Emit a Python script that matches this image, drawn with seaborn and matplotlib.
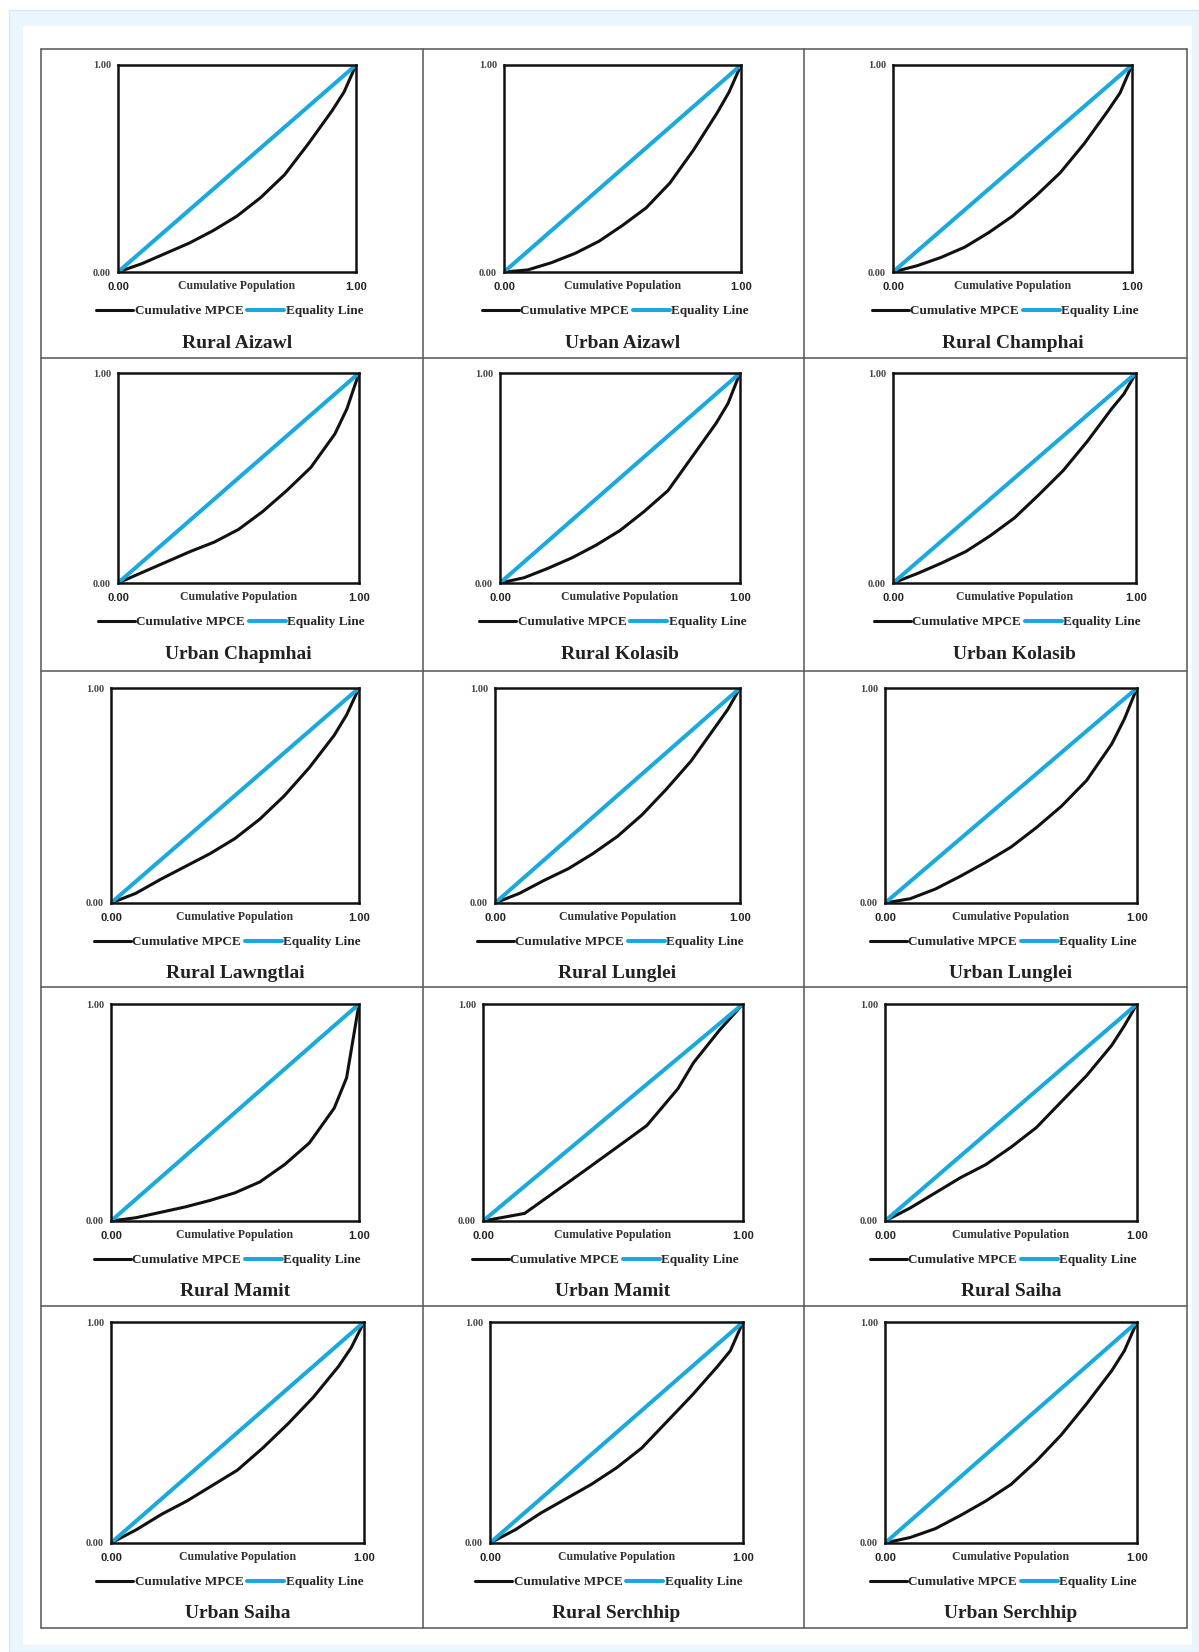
import matplotlib.pyplot as plt
import seaborn as sns
from matplotlib.patches import Rectangle

sns.set_theme(style="white")
plt.rcParams['font.family'] = ['Liberation Serif', 'DejaVu Serif']

# cumulative share of population (deciles + 0.95)
pop = [0.0, 0.1, 0.2, 0.3, 0.4, 0.5, 0.6, 0.7, 0.8, 0.9, 0.95, 1.0]

# cumulative share of MPCE
rural_aizawl = [0, 0.04, 0.09, 0.14, 0.20, 0.27, 0.36, 0.47, 0.62, 0.78, 0.87, 1.0]
urban_aizawl = [0, 0.01, 0.045, 0.09, 0.148, 0.225, 0.31, 0.43, 0.59, 0.77, 0.87, 1.0]
rural_champhai = [0, 0.03, 0.07, 0.12, 0.19, 0.27, 0.37, 0.48, 0.62, 0.78, 0.865, 1.0]
urban_chapmhai = [0, 0.05, 0.10, 0.15, 0.195, 0.255, 0.34, 0.44, 0.55, 0.71, 0.83, 1.0]
rural_kolasib = [0, 0.025, 0.07, 0.12, 0.18, 0.25, 0.34, 0.44, 0.60, 0.76, 0.855, 1.0]
urban_kolasib = [0, 0.045, 0.095, 0.15, 0.225, 0.31, 0.42, 0.535, 0.675, 0.83, 0.90, 1.0]
rural_lawngtlai = [0, 0.045, 0.11, 0.17, 0.23, 0.30, 0.39, 0.50, 0.63, 0.78, 0.875, 1.0]
rural_lunglei = [0, 0.045, 0.105, 0.16, 0.23, 0.31, 0.41, 0.53, 0.66, 0.82, 0.90, 1.0]
urban_lunglei = [0, 0.02, 0.065, 0.125, 0.19, 0.26, 0.35, 0.45, 0.57, 0.74, 0.856, 1.0]
rural_mamit = [0, 0.015, 0.04, 0.065, 0.095, 0.13, 0.18, 0.26, 0.36, 0.52, 0.66, 1.0]
rural_saiha = [0, 0.06, 0.13, 0.20, 0.26, 0.34, 0.43, 0.55, 0.67, 0.81, 0.90, 1.0]
urban_saiha = [0, 0.06, 0.13, 0.19, 0.26, 0.33, 0.43, 0.54, 0.66, 0.80, 0.885, 1.0]
rural_serchhip = [0, 0.06, 0.135, 0.20, 0.265, 0.34, 0.43, 0.55, 0.67, 0.80, 0.87, 1.0]
urban_serchhip = [0, 0.025, 0.065, 0.125, 0.19, 0.265, 0.37, 0.49, 0.63, 0.78, 0.87, 1.0]

# urban mamit is drawn as a plain polyline with its own points
urban_mamit_pop = [0, 0.16, 0.33, 0.40, 0.55, 0.63, 0.75, 0.81, 0.91, 1.0]
urban_mamit = [0, 0.035, 0.18, 0.24, 0.37, 0.44, 0.61, 0.73, 0.88, 1.0]

equality = [0.0, 1.0]

titles = ['Rural Aizawl', 'Urban Aizawl', 'Rural Champhai',
          'Urban Chapmhai', 'Rural Kolasib', 'Urban Kolasib',
          'Rural Lawngtlai', 'Rural Lunglei', 'Urban Lunglei',
          'Rural Mamit', 'Urban Mamit', 'Rural Saiha',
          'Urban Saiha', 'Rural Serchhip', 'Urban Serchhip']
curves_x = [pop, pop, pop, pop, pop, pop, pop, pop, pop,
            pop, urban_mamit_pop, pop, pop, pop, pop]
curves_y = [rural_aizawl, urban_aizawl, rural_champhai,
            urban_chapmhai, rural_kolasib, urban_kolasib,
            rural_lawngtlai, rural_lunglei, urban_lunglei,
            rural_mamit, urban_mamit, rural_saiha,
            urban_saiha, rural_serchhip, urban_serchhip]

W, H = 1199, 1652
fig = plt.figure(figsize=(W / 100, H / 100), dpi=100)
fig.patch.set_facecolor('white')

# background in pixel coordinates: light blue frame + table grid
bg = fig.add_axes([0, 0, 1, 1])
bg.set_xlim(0, W)
bg.set_ylim(H, 0)
bg.axis('off')
bg.add_patch(Rectangle((9, 10), W - 9, H - 10, facecolor='#eaf5fc', edgecolor='#d3eaf8', lw=1))
bg.add_patch(Rectangle((23, 26), 1169, 1619, facecolor='white', edgecolor='none'))

col_x = [41, 423, 804, 1187]
row_y = [49, 358, 671, 987, 1306, 1628]
for x in col_x:
    bg.plot([x, x], [row_y[0], row_y[-1]], color='#555555', lw=1.1)
for y in row_y:
    bg.plot([col_x[0], col_x[-1]], [y, y], color='#555555', lw=1.1)

# axes placement inside each cell (pixels)
ax_top = [65, 373, 688, 1004, 1322]
ax_h = [207, 210, 215, 217, 221]
ax_left = [[118, 504, 893], [118, 500, 893], [111, 495, 885], [111, 483, 885], [111, 490, 885]]
ax_w = [[238, 237, 239], [241, 240, 243], [248, 245, 252], [248, 260, 252], [253, 253, 252]]

blue = '#1aa9de'

for i, title in enumerate(titles):
    r, c = divmod(i, 3)
    left, top, w, h = ax_left[r][c], ax_top[r], ax_w[r][c], ax_h[r]
    ax = fig.add_axes([left / W, 1 - (top + h) / H, w / W, h / H])
    ax.set_facecolor('white')

    sns.lineplot(x=curves_x[i], y=curves_y[i], ax=ax, color='#111111', lw=2.2,
                 label='Cumulative MPCE', estimator=None, sort=False)
    sns.lineplot(x=equality, y=equality, ax=ax, color=blue, lw=2.9,
                 label='Equality Line', estimator=None, sort=False)

    ax.set_xlim(0, 1)
    ax.set_ylim(0, 1)
    ax.margins(0)
    for sp in ax.spines.values():
        sp.set_visible(True)
        sp.set_color('#111111')
        sp.set_linewidth(1.8)

    ax.set_xticks([0, 1])
    ax.set_xticklabels(['0.00', '1.00'], fontfamily='Liberation Sans',
                       fontweight='bold', fontsize=8, color='#222222')
    ax.set_yticks([0, 1])
    ax.set_yticklabels(['0.00', '1.00'], fontweight='bold', fontsize=7.5, color='#444444')
    ax.tick_params(axis='x', length=0, pad=7)
    ax.tick_params(axis='y', length=0, pad=5)

    ax.set_xlabel('Cumulative Population', fontsize=8.5, fontweight='bold', color='#333333')
    ax.xaxis.label.set_va('center')
    ax.xaxis.set_label_coords(0.5, -14 / h)
    ax.set_ylabel('')

    ax.legend(loc='center', bbox_to_anchor=(0.47, -39 / h), ncol=2, frameon=False,
              prop={'family': 'Liberation Serif', 'weight': 'bold', 'size': 9.5},
              handlelength=2.8, handletextpad=0.1, columnspacing=0.3, borderpad=0)

    ax.text(0.5, -71 / h, title, transform=ax.transAxes, ha='center', va='center',
            fontsize=14, fontweight='bold', color='#222222')

fig.savefig('out.png', dpi=100)
